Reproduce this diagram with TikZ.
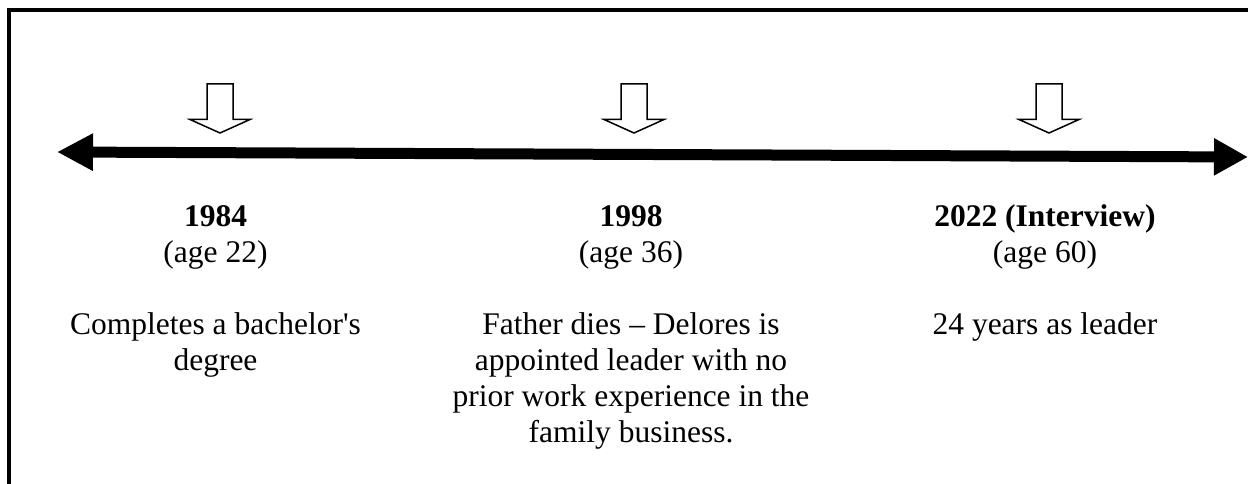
\documentclass[tikz,border=0pt]{standalone}
\usepackage{fontspec}
\setmainfont{Liberation Serif}
\usetikzlibrary{arrows.meta}
\begin{document}
\begin{tikzpicture}[x=1pt,y=-1pt,
  frameline/.style={line width=4pt, line join=miter},
  axisline/.style={line width=11pt,
    {Triangle[length=36pt,width=35pt]}-{Triangle[length=34pt,width=35pt]}},
  marker/.pic={\draw[line width=1.5pt, line join=miter, fill=white]
      (-13,-49) -- (13,-49) -- (13,-13.5) -- (30,-13.5) -- (0,0)
      -- (-30,-13.5) -- (-13,-13.5) -- cycle;},
  txt/.style={inner sep=0pt, align=center, font=\fontsize{31.5}{36}\selectfont},
  year/.style={txt, font=\fontsize{31.5}{36}\selectfont\bfseries}]
  \useasboundingbox (0,0) rectangle (1248,484);

  % open frame: left and top edges only
  \draw[frameline] (9,484) -- (9,10) -- (1248,10);

  % the time axis
  \coordinate (tL) at (57,152);
  \coordinate (tR) at (1248,157);
  \draw[axisline] (tL) -- (tR);

  % hollow markers above the axis
  \pic at (220,133) {marker};
  \pic at (634,133) {marker};
  \pic at (1049,133) {marker};

  % multi-line texts sit on the baseline of their last line
  % 1984
  \node[year, anchor=base] (y1) at (215.5,226) {1984};
  \node[txt, anchor=base] (a1) at (215.5,262) {(age 22)};
  \node[txt, anchor=base] (d1) at (215.5,370) {Completes a bachelor\textquotesingle s\\degree};

  % 1998
  \node[year, anchor=base] (y2) at (631,226) {1998};
  \node[txt, anchor=base] (a2) at (631,262) {(age 36)};
  \node[txt, anchor=base] (d2) at (631,442) {Father dies -- Delores is\\appointed leader with no\\prior work experience in the\\family business.};

  % 2022
  \node[year, anchor=base] (y3) at (1045,226) {2022 (Interview)};
  \node[txt, anchor=base] (a3) at (1045,262) {(age 60)};
  \node[txt, anchor=base] (d3) at (1045,334) {24 years as leader};
\end{tikzpicture}
\end{document}
